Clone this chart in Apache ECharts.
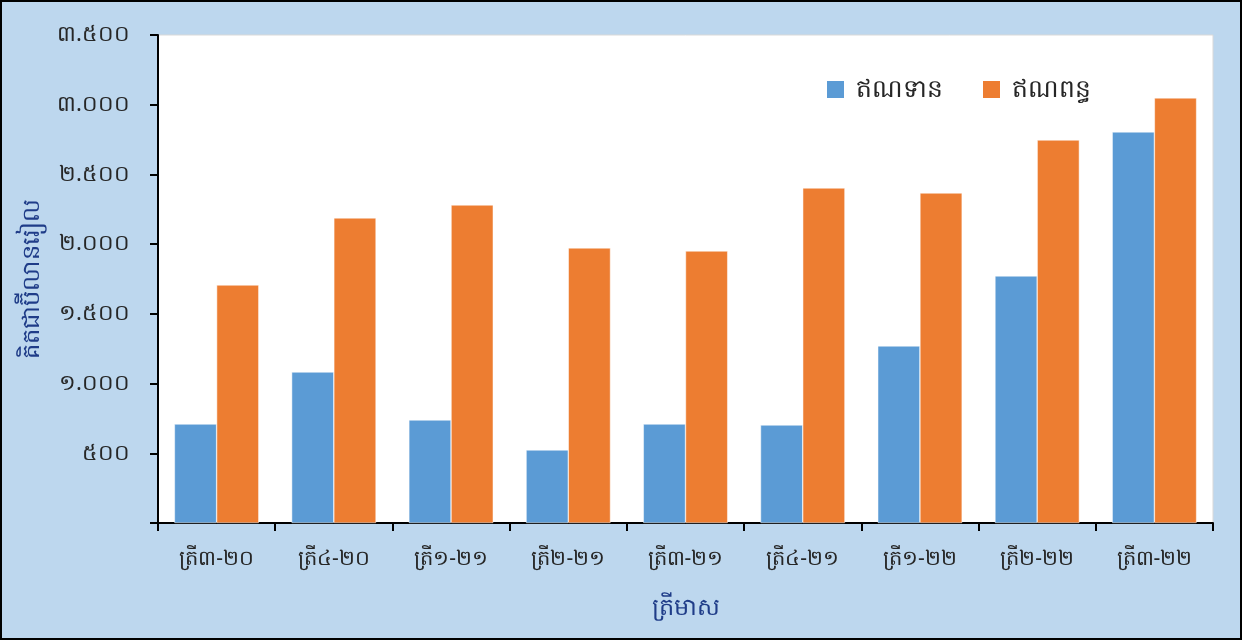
<!DOCTYPE html>
<html><head><meta charset="utf-8">
<script src="https://cdn.jsdelivr.net/npm/echarts@6/dist/echarts.min.js"></script>
<style>html,body{margin:0;padding:0;background:#fff}
#c{width:1238px;height:636px;border:2px solid #000;background:#BDD7EE}</style>
</head><body><div id="c"></div>
<script>
const categories = ['ត្រី៣-២០','ត្រី៤-២០','ត្រី១-២១','ត្រី២-២១','ត្រី៣-២១','ត្រី៤-២១','ត្រី១-២២','ត្រី២-២២','ត្រី៣-២២'];
const credit = [710, 1083, 739, 524, 710, 703, 1270, 1772, 2805];
const debit = [1707, 2188, 2281, 1973, 1951, 2403, 2367, 2747, 3049];
const seriesNames = ['ឥណទាន','ឥណពន្ធ'];
const yAxisName = 'គិតជាប៊ីលានរៀល';
const xAxisName = 'ត្រីមាស';
const khDigits = ['០','១','២','៣','៤','៥','៦','៧','៨','៩'];
function toKhmer(v){
  if (v === 0) return '';
  let s = String(v).replace(/\B(?=(\d{3})+(?!\d))/g, '.');
  return s.replace(/\d/g, d => khDigits[+d]);
}
const font = '"Noto Sans", "DejaVu Sans", sans-serif';
const chart = echarts.init(document.getElementById('c'));
chart.setOption({
  backgroundColor: '#BDD7EE',
  textStyle: {fontFamily: font},
  grid: {left: 156, right: 27, top: 33, bottom: 115, show: true, backgroundColor: '#fff', borderColor: '#D9D9D9', borderWidth: 1},
  legend: {
    data: seriesNames, left: 818, top: 70, itemWidth: 19, itemHeight: 19, itemGap: 38,
    icon: 'rect',
    textStyle: {fontSize: 25, color: '#262626', fontFamily: font, padding: [0,0,0,6]}
  },
  xAxis: {
    type: 'category', data: categories,
    name: xAxisName, nameLocation: 'middle', nameGap: 73,
    nameTextStyle: {fontSize: 24, color: '#1F3C88', fontFamily: font},
    axisLine: {lineStyle: {color: '#000', width: 2}},
    axisTick: {show: true, length: 8, lineStyle: {color: '#000', width: 2}},
    axisLabel: {fontSize: 21, color: '#262626', margin: 26, fontFamily: font}
  },
  yAxis: {
    type: 'value', min: 0, max: 3500, interval: 500,
    name: yAxisName, nameLocation: 'middle', nameGap: 114, nameRotate: 90,
    nameTextStyle: {fontSize: 24, color: '#1F3C88', fontFamily: font},
    axisLine: {show: true, lineStyle: {color: '#000', width: 2}},
    axisTick: {show: true, length: 8, lineStyle: {color: '#000', width: 2}},
    splitLine: {show: false},
    axisLabel: {fontSize: 22, color: '#262626', margin: 28, formatter: toKhmer, fontFamily: font}
  },
  series: [
    {name: seriesNames[0], type: 'bar', data: credit, barGap: '0%', barCategoryGap: '28%',
     itemStyle: {color: '#5B9BD5', borderColor: '#fff', borderWidth: 0.5}},
    {name: seriesNames[1], type: 'bar', data: debit,
     itemStyle: {color: '#ED7D31', borderColor: '#fff', borderWidth: 0.5}}
  ]
});
</script></body></html>
